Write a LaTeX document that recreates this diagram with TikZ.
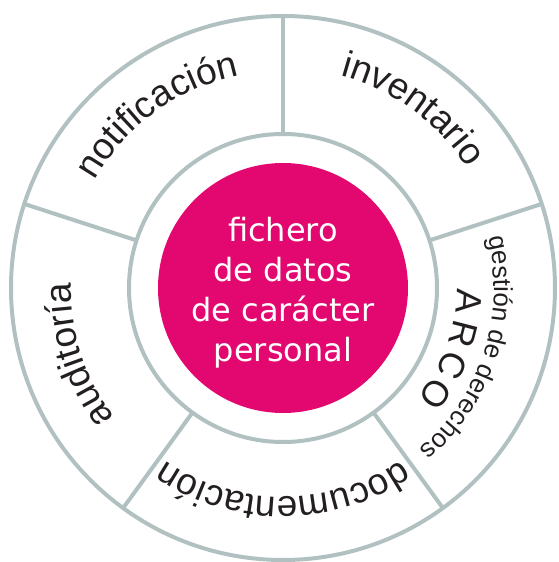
\documentclass[tikz,border=0pt]{standalone}
\usepackage{fontspec}
\setmainfont{Liberation Sans}
\newfontfamily\corefont{DejaVu Sans}
\usepackage{xcolor}
\usepackage{tikz}
\usetikzlibrary{shapes,arrows,positioning,calc,decorations.text,arrows.meta}

\definecolor{ringgray}{RGB}{177,193,193}
\definecolor{coremagenta}{RGB}{226,8,112}
\definecolor{inktext}{RGB}{35,31,32}

\newcommand{\labelfont}{\fontsize{37}{40}\selectfont}
\newcommand{\smallfont}{\fontsize{26}{30}\selectfont}

\tikzset{
    ring/.style={draw=ringgray, line width=4pt},
    core/.style={circle, fill=coremagenta, minimum size=250pt, inner sep=0pt},
    coretext/.style={text=white, align=center, font=\corefont\fontsize{32}{40}\selectfont},
    arcoletter/.style={inner sep=0pt, text=inktext, font=\fontsize{36}{40}\selectfont},
}

\begin{document}
\begin{tikzpicture}[x=1pt,y=1pt]
    \useasboundingbox (-283,-274) rectangle (276,288);

    % Rings and dividers
    \draw[ring] (0,0) circle[radius=272pt];
    \draw[ring] (0,0) circle[radius=154pt];
    \foreach \a in {18,90,162,234,306} {
        \draw[ring] (\a:154pt) -- (\a:272pt);
    }

    % Core
    \node[core] (core) at (0,0) {};
    \node[coretext] (coretxt) at ([yshift=-5pt]core.center) {fichero\\de datos\\de carácter\\personal};

    % Sector labels (clockwise arcs)
    \path[decorate, decoration={text along path, text align=center, text color=inktext,
        text={|\labelfont|notificación}}] (162:217pt) arc[start angle=162, end angle=90, radius=217pt];
    \path[decorate, decoration={text along path, text align=center, text color=inktext,
        text={|\labelfont|inventario}}] (90:220pt) arc[start angle=90, end angle=18, radius=220pt];
    \path[decorate, decoration={text along path, text align=center, text color=inktext,
        text={|\labelfont|auditoría}}] (234:212pt) arc[start angle=234, end angle=162, radius=212pt];
    \path[decorate, decoration={text along path, text align=center, text color=inktext,
        text={|\labelfont|documentación}}] (306:209pt) arc[start angle=306, end angle=234, radius=209pt];
    \path[decorate, decoration={text along path, text align=center, text color=inktext,
        text={|\smallfont|gestión de derechos}}] (18:211pt) arc[start angle=18, end angle=-54, radius=211pt];

    % ARCO
    \foreach \ch [count=\k] in {A,R,C,O} {
        \node[arcoletter, rotate={-94.2-10.2*(\k-1)}] (arco\k) at ({-4.2-10.2*(\k-1)}:186pt) {\ch};
    }
\end{tikzpicture}
\end{document}
